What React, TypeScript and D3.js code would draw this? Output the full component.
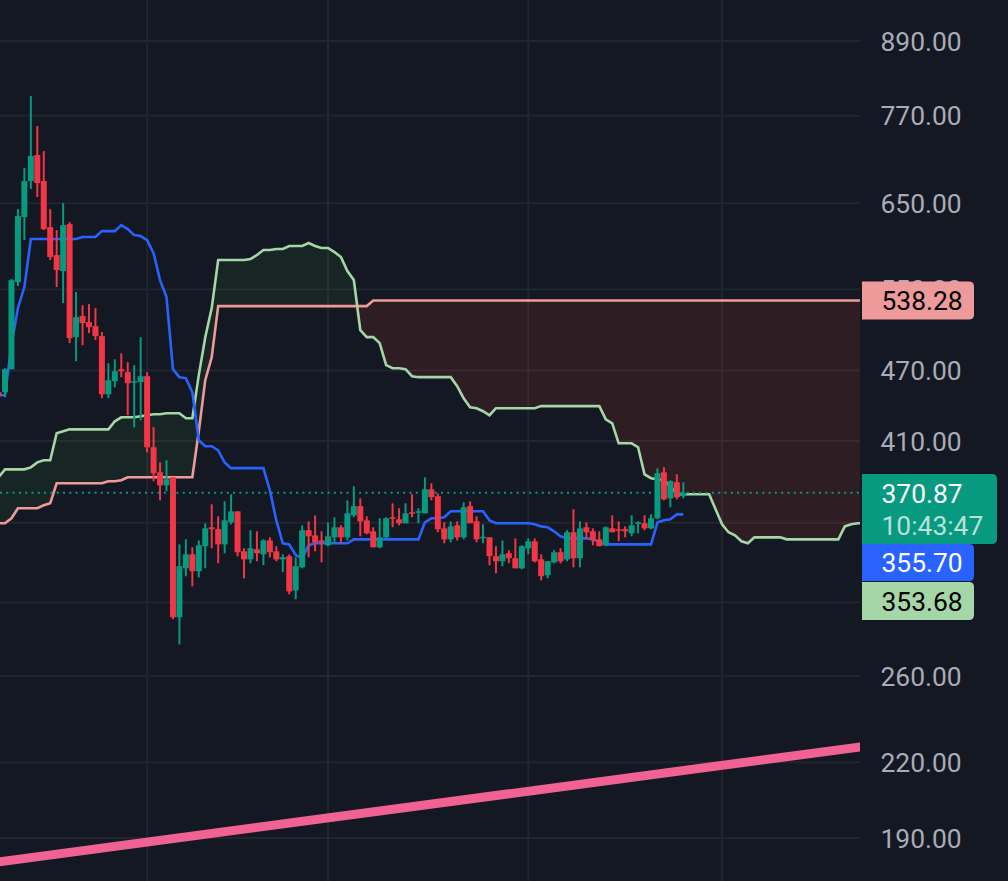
import React from "react";
import * as d3 from "d3";

const WIDTH = 1008;
const HEIGHT = 881;
const PLOT_RIGHT = 860;

// Price-axis ticks
const gridPrices = [890, 770, 650, 550, 470, 410, 350, 300, 260, 220, 190];
const labelledPrices = [890, 770, 650, 550, 470, 410, 260, 220, 190];
// Time-grid positions, as candle indices
const timeGrid = [22, 50, 81, 111];

// Candles, oldest first. The first sits at bar index -1.
const opens = [450.7,
  450.7, 471.2, 557.8, 632.8, 678.5, 713.6, 678.5, 620.6, 587.9, 569.9,
  624.2, 501.4, 522.3, 516.2, 512.2, 502.4, 448.9, 460.4, 471.2, 468.5,
  459.5, 459.5, 464.9, 405.1, 385.9, 376.3, 382.2, 291.4, 320.4, 329.2,
  318.6, 334.4, 346.9, 345.6, 335.6, 350.2, 357.8, 331.1, 326.0, 332.4,
  329.2, 338.2, 331.1, 326.0, 328.0, 307.0, 321.0, 344.9, 341.5, 338.2,
  335.0, 340.2, 346.9, 340.2, 355.0, 361.4, 351.6, 344.2, 333.7, 340.2,
  353.7, 352.3, 349.6, 357.1, 357.1, 356.4, 373.4, 368.4, 346.2, 338.9,
  348.2, 340.2, 361.4, 350.9, 340.2, 340.2, 328.0, 324.8, 329.9, 326.7,
  320.4, 333.1, 337.6, 326.0, 316.1, 324.1, 330.5, 326.0, 343.6, 326.7,
  346.9, 344.2, 338.9, 335.0, 346.2, 345.6, 345.6, 342.9, 349.6, 349.6,
  346.2, 353.0, 385.9, 366.9, 378.5, 368.4];
const highs = [450.7,
  472.1, 561.1, 642.6, 695.8, 800.0, 754.8, 719.1, 642.6, 617.0, 650.0,
  626.6, 547.2, 533.5, 534.6, 530.4, 506.3, 476.7, 480.4, 486.0, 477.6,
  474.9, 501.4, 468.5, 421.2, 393.4, 395.0, 382.2, 335.6, 338.9, 333.7,
  338.2, 349.5, 362.7, 354.4, 364.8, 369.8, 357.8, 333.1, 344.9, 344.2,
  338.9, 340.2, 334.4, 329.2, 329.2, 327.3, 348.2, 350.9, 355.0, 344.2,
  350.2, 353.7, 348.2, 365.5, 375.6, 366.9, 354.4, 346.9, 353.0, 353.7,
  363.4, 359.9, 363.4, 369.8, 359.9, 382.2, 377.8, 370.5, 350.2, 350.9,
  350.9, 364.1, 364.8, 354.4, 348.9, 340.2, 334.4, 338.2, 331.8, 339.5,
  335.0, 339.5, 339.5, 329.2, 324.8, 331.8, 333.1, 344.9, 359.2, 350.9,
  350.2, 346.2, 344.2, 347.5, 355.0, 350.9, 347.5, 355.0, 350.9, 355.0,
  355.7, 388.9, 389.7, 380.0, 384.4, 378.5];
const lows = [445.4,
  446.3, 471.2, 553.5, 605.2, 668.1, 657.8, 617.0, 582.2, 552.5, 535.6,
  495.6, 478.6, 493.7, 505.3, 498.5, 445.4, 445.4, 455.1, 464.0, 431.0,
  421.0, 426.8, 401.1, 379.3, 365.5, 372.0, 290.3, 276.5, 315.5, 309.4,
  314.8, 320.4, 333.1, 323.5, 329.9, 348.9, 327.9, 314.2, 323.5, 324.8,
  322.3, 327.3, 324.8, 318.0, 304.6, 301.7, 320.4, 327.3, 331.1, 324.1,
  334.4, 336.3, 336.3, 338.2, 353.7, 340.9, 342.2, 333.7, 333.1, 339.5,
  346.9, 348.2, 349.6, 353.7, 349.6, 356.4, 365.5, 343.6, 336.3, 336.9,
  338.2, 338.9, 349.6, 336.9, 336.3, 322.3, 317.3, 321.7, 323.5, 320.4,
  319.8, 329.2, 324.1, 313.0, 314.2, 323.5, 323.5, 324.8, 321.0, 321.0,
  339.5, 335.0, 334.4, 334.4, 343.6, 337.6, 340.2, 340.9, 342.9, 344.9,
  345.6, 352.3, 365.5, 360.6, 366.2, 366.9];
const closes = [447.2,
  471.2, 560.0, 634.0, 678.5, 712.2, 675.9, 618.2, 585.6, 571.0, 623.0,
  500.5, 521.2, 515.2, 511.2, 502.4, 448.9, 461.3, 469.4, 469.4, 458.6,
  460.4, 464.9, 405.1, 385.2, 376.3, 380.7, 291.4, 321.7, 329.2, 318.6,
  335.0, 346.2, 345.6, 335.6, 351.6, 357.8, 330.5, 326.0, 333.1, 329.9,
  338.2, 330.5, 326.0, 327.3, 306.4, 321.7, 344.9, 340.9, 336.9, 336.9,
  340.9, 346.9, 340.2, 356.4, 361.4, 350.9, 342.9, 333.7, 340.2, 353.0,
  353.0, 349.6, 356.4, 356.4, 357.8, 373.4, 367.7, 345.6, 338.9, 347.5,
  340.2, 360.6, 349.6, 338.9, 340.6, 328.0, 324.8, 329.2, 326.7, 320.4,
  334.4, 337.6, 324.8, 315.5, 324.8, 330.5, 324.8, 343.6, 326.7, 346.2,
  343.6, 338.2, 334.4, 346.9, 343.6, 344.9, 344.2, 348.2, 350.2, 346.2,
  353.0, 385.2, 366.2, 379.3, 367.7, 370.87];

// Blue conversion line, same bars as the candles
const conversion = [448.0,
  448.0, 493.7, 530.4, 552.5, 606.4, 606.4, 606.4, 606.4, 606.4, 606.4,
  606.4, 606.4, 608.8, 608.8, 608.8, 615.8, 615.8, 615.8, 623.0, 618.2,
  611.0, 609.9, 605.2, 590.1, 560.0, 541.9, 471.2, 464.0, 463.1, 450.7,
  410.6, 405.9, 405.9, 402.7, 393.4, 389.0, 389.0, 389.0, 389.0, 389.0,
  389.0, 372.7, 351.6, 336.3, 335.6, 328.7, 326.7, 335.0, 336.3, 336.3,
  336.3, 336.3, 336.3, 336.3, 338.9, 338.9, 338.9, 338.9, 338.9, 338.9,
  338.9, 338.9, 338.9, 338.9, 338.9, 350.2, 353.0, 353.0, 353.7, 357.8,
  357.8, 357.8, 357.8, 357.8, 357.8, 351.6, 349.6, 349.6, 349.6, 349.6,
  349.6, 349.6, 348.9, 347.5, 346.9, 344.2, 340.9, 339.5, 339.5, 339.5,
  339.5, 338.9, 336.9, 335.6, 335.6, 335.6, 335.6, 335.6, 335.6, 335.6,
  335.6, 350.2, 351.6, 352.3, 355.7, 355.7];

// Leading spans reach past the last candle: bars -1 to 133
const spanA = [382.2,
  388.1, 388.1, 388.1, 388.1, 389.6, 393.4, 395.0, 395.0, 416.2, 417.8,
  419.4, 419.4, 419.4, 419.4, 419.4, 419.4, 419.4, 426.0, 429.3, 429.3,
  429.3, 430.1, 431.0, 431.8, 431.8, 432.7, 432.7, 432.7, 428.5, 428.5,
  465.8, 501.4, 530.4, 582.2, 582.2, 582.2, 582.2, 582.2, 583.3, 587.9,
  593.6, 593.6, 594.8, 594.8, 598.3, 598.3, 598.3, 601.7, 598.3, 596.0,
  596.0, 591.3, 585.6, 569.9, 560.0, 508.3, 501.4, 501.4, 495.6, 474.9,
  472.1, 472.1, 471.2, 464.9, 464.0, 464.0, 464.0, 464.0, 464.0, 464.0,
  456.0, 445.4, 437.7, 436.9, 434.4, 431.0, 436.9, 436.9, 436.9, 436.9,
  436.9, 436.9, 436.9, 438.7, 438.7, 438.7, 438.7, 438.7, 438.7, 438.7,
  438.7, 438.7, 438.7, 427.6, 424.3, 408.2, 408.2, 408.2, 405.1, 384.4,
  381.5, 380.7, 380.0, 375.6, 369.8, 369.8, 369.8, 369.8, 369.8, 369.8,
  359.2, 348.9, 343.6, 341.5, 337.6, 336.3, 340.2, 340.2, 340.2, 340.2,
  340.2, 338.9, 338.9, 338.9, 338.9, 338.9, 338.9, 338.9, 338.9, 338.9,
  347.5, 348.9, 349.6, 349.6];
const spanB = [349.6,
  349.6, 353.0, 359.9, 359.9, 359.9, 359.9, 362.0, 363.4, 377.8, 377.8,
  377.8, 377.8, 377.8, 377.8, 377.8, 377.8, 379.3, 379.3, 380.0, 382.2,
  382.2, 382.2, 382.2, 382.2, 382.2, 382.2, 382.2, 382.2, 382.2, 382.2,
  417.8, 461.3, 482.3, 532.5, 532.5, 532.5, 532.5, 532.5, 532.5, 532.5,
  532.5, 532.5, 532.5, 532.5, 532.5, 532.5, 532.5, 532.5, 532.5, 532.5,
  532.5, 532.5, 532.5, 532.5, 532.5, 532.5, 532.5, 538.28, 538.28, 538.28,
  538.28, 538.28, 538.28, 538.28, 538.28, 538.28, 538.28, 538.28, 538.28, 538.28,
  538.28, 538.28, 538.28, 538.28, 538.28, 538.28, 538.28, 538.28, 538.28, 538.28,
  538.28, 538.28, 538.28, 538.28, 538.28, 538.28, 538.28, 538.28, 538.28, 538.28,
  538.28, 538.28, 538.28, 538.28, 538.28, 538.28, 538.28, 538.28, 538.28, 538.28,
  538.28, 538.28, 538.28, 538.28, 538.28, 538.28, 538.28, 538.28, 538.28, 538.28,
  538.28, 538.28, 538.28, 538.28, 538.28, 538.28, 538.28, 538.28, 538.28, 538.28,
  538.28, 538.28, 538.28, 538.28, 538.28, 538.28, 538.28, 538.28, 538.28, 538.28,
  538.28, 538.28, 538.28, 538.28];

// Pink trend line: bar indices and prices of its two ends
const trendBars = [-1, 133];
const trendPrices = [181.4, 226.9];

const lastPrice = 370.87;
const countdown = "10:43:47";
const spanBLast = "538.28";
const conversionLast = "355.70";
const spanALast = "353.68";

const BG = "#141822";
const GRID = "#21252F";
const UP = "#089981";
const DOWN = "#F23645";
const BLUE = "#2962FF";
const SPAN_A = "#A5D6A7";
const SPAN_B = "#EF9A9A";
const FONT = "Roboto, sans-serif";

const x = d3.scaleLinear().domain([0, 105]).range([5, 683.3]);
const y = d3.scaleLog().domain([890, 190]).range([41, 838]);

const barOf = (k: number) => k - 1;
const seriesLine = d3
  .line<number>()
  .x((_, k) => x(barOf(k)))
  .y((v) => y(v));

const greenCloud = d3
  .area<number>()
  .x((_, k) => x(barOf(k)))
  .y0((_, k) => y(spanB[k]))
  .y1((v, k) => y(Math.max(v, spanB[k])));
const redCloud = d3
  .area<number>()
  .x((_, k) => x(barOf(k)))
  .y0((_, k) => y(spanB[k]))
  .y1((v, k) => y(Math.min(v, spanB[k])));

function tagPath(x0: number, x1: number, y0: number, y1: number, r = 5) {
  return `M${x0},${y0}H${x1 - r}Q${x1},${y0} ${x1},${y0 + r}V${y1 - r}Q${x1},${y1} ${x1 - r},${y1}H${x0}Z`;
}

function Tag(props: { x1: number; y0: number; y1: number; fill: string }) {
  return <path d={tagPath(862, props.x1, props.y0, props.y1)} fill={props.fill} />;
}

export default function App() {
  const spanBY = y(538.28);
  return (
    <svg
      width={WIDTH}
      height={HEIGHT}
      viewBox={`0 0 ${WIDTH} ${HEIGHT}`}
      style={{ position: "absolute", left: 0, top: 0, background: BG, display: "block" }}
    >
      <defs>
        <clipPath id="plot">
          <rect x={0} y={0} width={PLOT_RIGHT} height={HEIGHT} />
        </clipPath>
      </defs>
      <rect width={WIDTH} height={HEIGHT} fill={BG} />
      <g clipPath="url(#plot)">
        {gridPrices.map((p) => (
          <line key={p} x1={0} x2={PLOT_RIGHT} y1={y(p)} y2={y(p)} stroke={GRID} strokeWidth={2} />
        ))}
        {timeGrid.map((b) => (
          <line key={b} x1={x(b)} x2={x(b)} y1={0} y2={HEIGHT} stroke={GRID} strokeWidth={2} />
        ))}
        <path d={greenCloud(spanA) ?? ""} fill="#43A047" fillOpacity={0.1} />
        <path d={redCloud(spanA) ?? ""} fill="#F44336" fillOpacity={0.12} />
        <path d={seriesLine(spanB) ?? ""} fill="none" stroke={SPAN_B} strokeWidth={2.6} />
        <path d={seriesLine(spanA) ?? ""} fill="none" stroke={SPAN_A} strokeWidth={2.6} />
        <path d={seriesLine(conversion) ?? ""} fill="none" stroke={BLUE} strokeWidth={2.6} />
        {opens.map((o, k) => {
          const c = closes[k];
          const col = c >= o ? UP : DOWN;
          const cx = x(barOf(k));
          const top = y(Math.max(o, c));
          const bot = y(Math.min(o, c));
          return (
            <g key={k}>
              <line x1={cx} x2={cx} y1={y(highs[k])} y2={y(lows[k])} stroke={col} strokeWidth={2} />
              <rect x={cx - 3} y={top} width={6} height={Math.max(bot - top, 1.5)} fill={col} />
            </g>
          );
        })}
        <line
          x1={0}
          x2={PLOT_RIGHT}
          y1={y(lastPrice)}
          y2={y(lastPrice)}
          stroke={UP}
          strokeWidth={2}
          strokeDasharray="2 4.3"
        />
        <line
          x1={x(trendBars[0])}
          x2={x(trendBars[1])}
          y1={y(trendPrices[0])}
          y2={y(trendPrices[1])}
          stroke="#F06292"
          strokeWidth={9}
        />
      </g>
      <g fontFamily={FONT} fontSize={26.4}>
        {labelledPrices.map((p) => (
          <text key={p} x={880.5} y={y(p)} dy="0.36em" fill="#A9ACB6">
            {p.toFixed(2)}
          </text>
        ))}
        <Tag x1={974} y0={spanBY - 19} y1={spanBY + 19} fill={SPAN_B} />
        <text x={881.5} y={spanBY} dy="0.36em" fill="#000000">
          {spanBLast}
        </text>
        <Tag x1={997} y0={474} y1={544} fill={UP} />
        <text x={881.5} y={493} dy="0.36em" fill="#FFFFFF">
          {lastPrice.toFixed(2)}
        </text>
        <text x={881.5} y={525} dy="0.36em" fill="#FFFFFF" fillOpacity={0.72}>
          {countdown}
        </text>
        <Tag x1={974} y0={544} y1={581} fill={BLUE} />
        <text x={881.5} y={562.5} dy="0.36em" fill="#FFFFFF">
          {conversionLast}
        </text>
        <Tag x1={974} y0={582} y1={620} fill={SPAN_A} />
        <text x={881.5} y={601} dy="0.36em" fill="#000000">
          {spanALast}
        </text>
      </g>
    </svg>
  );
}
